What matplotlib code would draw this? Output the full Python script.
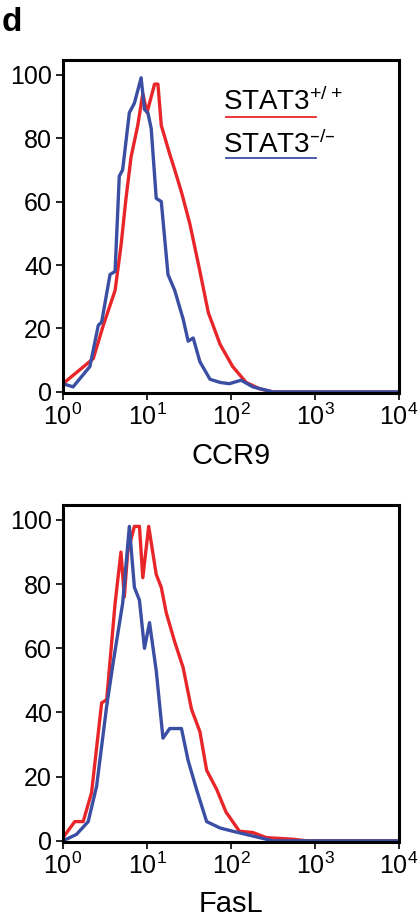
import numpy as np
import matplotlib
matplotlib.use("Agg")
import matplotlib.pyplot as plt

plt.rcParams['font.family'] = ['Liberation Sans', 'DejaVu Sans']
plt.rcParams['mathtext.default'] = 'regular'

# CCR9 panel (log10 intensity, % of max)
ccr9_wt_logx = [0, .36, .48, .62, .69, .75, .81, .89, .95, 1.0, 1.09, 1.13, 1.17, 1.27, 1.33, 1.41, 1.51, 1.63, 1.73, 1.87, 2.02, 2.18, 2.34, 2.5, 4]
ccr9_wt_y = [2.6, 10.5, 21, 32, 46, 61, 74, 84, 94, 88, 97, 97, 84, 75, 70, 63, 53, 38, 25, 15, 8, 3, 1, 0, 0]
ccr9_ko_logx = [0, .12, .32, .42, .46, .56, .62, .67, .71, .79, .85, .93, .97, 1.01, 1.05, 1.11, 1.17, 1.25, 1.33, 1.43, 1.49, 1.55, 1.63, 1.75, 1.87, 1.98, 2.12, 2.26, 2.38, 2.5, 4]
ccr9_ko_y = [2.6, 1.6, 8, 21, 22, 37, 38, 68, 70, 88, 91, 99, 89, 88, 83, 61, 60, 37, 32, 23, 16, 17, 9.5, 4, 3, 2.6, 3.7, 1.6, 0.8, 0, 0]
# FasL panel
fasl_wt_logx = [0, .14, .24, .34, .46, .52, .62, .69, .73, .77, .85, .91, .95, 1.02, 1.11, 1.17, 1.23, 1.33, 1.43, 1.53, 1.63, 1.71, 1.83, 1.94, 2.10, 2.26, 2.42, 2.74, 2.9, 4]
fasl_wt_y = [1, 6, 6, 15, 43, 44, 74, 90, 76, 90, 98, 98, 82, 98, 83, 79, 71, 62, 54, 41, 34, 22, 16, 9, 3, 2.6, 1, .5, 0, 0]
fasl_ko_logx = [0, .16, .3, .40, .52, .6, .71, .79, .85, .91, .97, 1.03, 1.11, 1.19, 1.27, 1.41, 1.49, 1.59, 1.71, 1.87, 2.02, 2.18, 2.34, 2.5, 4]
fasl_ko_y = [0, 2, 6, 17, 42, 56, 74, 98, 79, 75, 60, 68, 53, 32, 35, 35, 25, 16, 6, 4, 3, 2, 1, 0, 0]

yticks = [0, 20, 40, 60, 80, 100]
xticks = [1, 10, 100, 1000, 10000]
xticklabels = ['$10^0$', '$10^1$', '$10^2$', '$10^3$', '$10^4$']
red = '#e8262a'
blue = '#3a4fa3'

fig = plt.figure(figsize=(4.2, 9.18), dpi=100)
ax1 = fig.add_axes([0.150, 0.572, 0.800, 0.363])
ax2 = fig.add_axes([0.150, 0.083, 0.800, 0.367])

panels = [(ax1, ccr9_wt_logx, ccr9_wt_y, ccr9_ko_logx, ccr9_ko_y, 'CCR9'),
          (ax2, fasl_wt_logx, fasl_wt_y, fasl_ko_logx, fasl_ko_y, 'FasL')]
for ax, wx, wy, kx, ky, lab in panels:
    ax.plot(10**np.array(wx), wy, color=red, lw=2.4)
    ax.plot(10**np.array(kx), ky, color=blue, lw=2.4)
    ax.set_xscale('log')
    ax.set_xlim(1, 10000)
    ax.set_ylim(-0.3, 104.7)
    ax.set_xticks(xticks)
    ax.set_xticklabels(xticklabels)
    ax.set_yticks(yticks)
    ax.tick_params(labelsize=18, width=1.2, length=5, pad=3)
    ax.tick_params(which='minor', length=3)
    ax.set_xlabel(lab, fontsize=21, labelpad=8)
    for s in ax.spines.values():
        s.set_linewidth(2.2)

ax1.text(0.477, 0.85, 'STAT3$^{+/+}$', transform=ax1.transAxes, fontsize=20, va='baseline')
ax1.plot([0.485, 0.754], [0.829, 0.829], transform=ax1.transAxes, color=red, lw=1.3)
ax1.text(0.477, 0.72, 'STAT3$^{\u2013/\u2013}$', transform=ax1.transAxes, fontsize=20, va='baseline')
ax1.plot([0.485, 0.754], [0.706, 0.706], transform=ax1.transAxes, color=blue, lw=1.3)

fig.text(0.003, 0.976, 'd', fontsize=24, fontweight='bold', va='center')
fig.savefig('out.png', dpi=100)
